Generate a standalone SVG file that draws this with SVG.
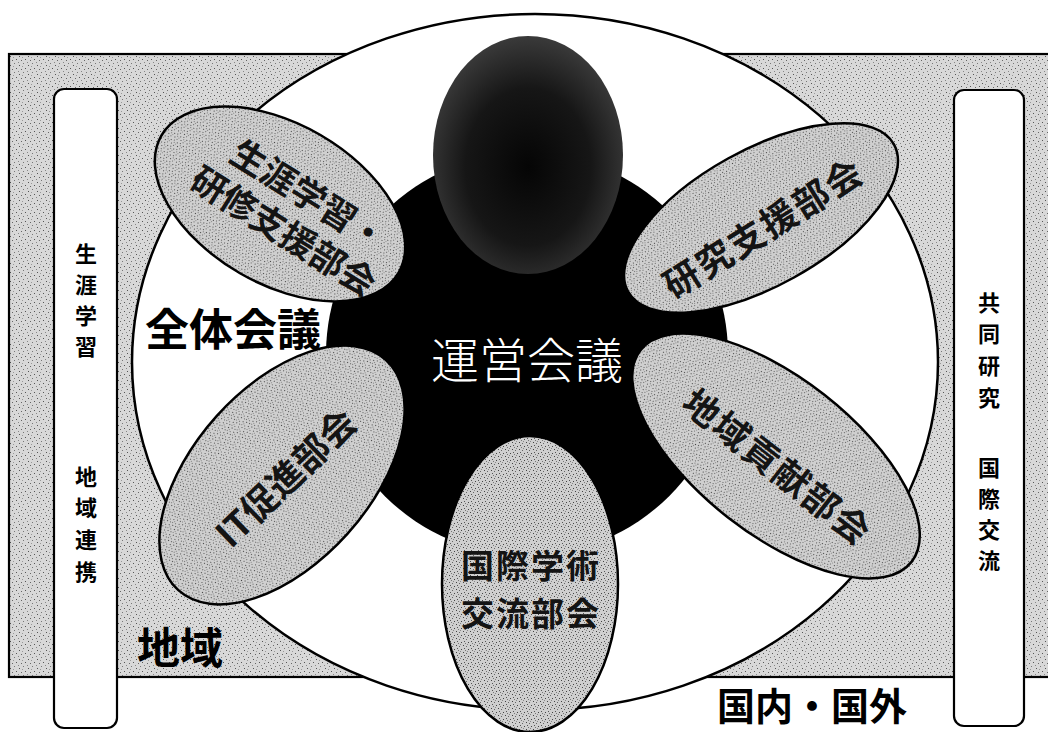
<svg xmlns="http://www.w3.org/2000/svg" width="1048" height="732" viewBox="0 0 1048 732">
  <defs>
    <pattern id="stipOuter" width="9" height="9" patternUnits="userSpaceOnUse">
      <rect width="9" height="9" fill="#d8d8d8"/>
      <rect x="1" y="2" width="1" height="1" fill="#555"/>
      <rect x="5" y="0" width="1" height="1" fill="#777"/>
      <rect x="7" y="5" width="1" height="1" fill="#555"/>
      <rect x="3" y="6" width="1" height="1" fill="#666"/>
      <rect x="0" y="8" width="1" height="1" fill="#888"/>
      <rect x="4" y="3" width="1" height="1" fill="#999"/>
    </pattern>
    <pattern id="stipPetal" width="7" height="7" patternUnits="userSpaceOnUse">
      <rect width="7" height="7" fill="#cfcfcf"/>
      <rect x="1" y="1" width="1" height="1" fill="#444"/>
      <rect x="4" y="2" width="1" height="1" fill="#666"/>
      <rect x="2" y="4" width="1" height="1" fill="#555"/>
      <rect x="6" y="5" width="1" height="1" fill="#444"/>
      <rect x="3" y="6" width="1" height="1" fill="#777"/>
      <rect x="5" y="0" width="1" height="1" fill="#888"/>
    </pattern>
    <radialGradient id="darkTop" cx="0.5" cy="0.55" r="0.55">
      <stop offset="0" stop-color="#050505"/>
      <stop offset="0.6" stop-color="#161616"/>
      <stop offset="1" stop-color="#3a3a3a"/>
    </radialGradient>
    <style>
      .petal { fill: url(#stipPetal); stroke: #000; stroke-width: 2.5; }
      .pill { fill: #fff; stroke: #000; stroke-width: 2.2; }
      .ptxt { font-family: "Noto Sans CJK JP", sans-serif; font-weight: 700; fill: #141414; text-anchor: middle; dominant-baseline: central; }
      .vtxt { font-family: "Noto Sans CJK JP", sans-serif; font-weight: 700; font-size: 22px; fill: #000; text-anchor: middle; dominant-baseline: central; }
      .big { font-family: "Noto Sans CJK JP", sans-serif; font-weight: 700; fill: #000; text-anchor: middle; dominant-baseline: central; }
    </style>
  </defs>

  <rect width="1048" height="732" fill="#fff"/>

  <g id="region-outer">
    <rect x="9" y="54" width="1045" height="623" fill="url(#stipOuter)" stroke="#000" stroke-width="2.2"/>
  </g>

  <g id="pill-left">
    <rect class="pill" x="54" y="89" width="63" height="639" rx="10"/>
    <text class="vtxt" x="86" y="252">生</text>
    <text class="vtxt" x="86" y="283">涯</text>
    <text class="vtxt" x="86" y="314">学</text>
    <text class="vtxt" x="86" y="345">習</text>
    <text class="vtxt" x="86" y="475">地</text>
    <text class="vtxt" x="86" y="506">域</text>
    <text class="vtxt" x="86" y="538">連</text>
    <text class="vtxt" x="86" y="570">携</text>
  </g>

  <g id="pill-right">
    <rect class="pill" x="954" y="90" width="70" height="636" rx="10"/>
    <text class="vtxt" x="989" y="301">共</text>
    <text class="vtxt" x="989" y="332">同</text>
    <text class="vtxt" x="989" y="364">研</text>
    <text class="vtxt" x="989" y="396">究</text>
    <text class="vtxt" x="989" y="466">国</text>
    <text class="vtxt" x="989" y="497">際</text>
    <text class="vtxt" x="989" y="528">交</text>
    <text class="vtxt" x="989" y="559">流</text>
  </g>

  <g id="zentai-kaigi">
    <ellipse cx="535" cy="362" rx="403" ry="348" fill="#fff" stroke="#000" stroke-width="2.5"/>
    <text class="big" x="233" y="327" font-size="44">全体会議</text>
  </g>

  <g id="unei-kaigi">
    <circle cx="527" cy="354" r="201" fill="#000"/>
    <ellipse cx="528" cy="155" rx="95" ry="119" fill="url(#darkTop)"/>
    <text x="527" y="357" font-family="Noto Sans CJK JP, sans-serif" font-size="48" font-weight="300" fill="#fff" text-anchor="middle" dominant-baseline="central">運営会議</text>
  </g>

  <g id="petal-shogai">
    <ellipse class="petal" cx="0" cy="0" rx="137" ry="80" transform="translate(280,204) rotate(30)"/>
    <text class="ptxt" font-size="35" transform="translate(310,193) rotate(32)">生涯学習・</text>
    <text class="ptxt" font-size="35" transform="translate(285,229) rotate(32)">研修支援部会</text>
  </g>

  <g id="petal-kenkyu">
    <ellipse class="petal" cx="0" cy="0" rx="152" ry="68" transform="translate(761,218) rotate(-29)"/>
    <text class="ptxt" font-size="36" letter-spacing="2" transform="translate(762,226) rotate(-32)">研究支援部会</text>
  </g>

  <g id="petal-it">
    <ellipse class="petal" cx="0" cy="0" rx="155" ry="88" transform="translate(282,475) rotate(-48)"/>
    <text class="ptxt" font-size="36" transform="translate(284,476) rotate(-44)">IT促進部会</text>
  </g>

  <g id="petal-chiiki">
    <ellipse class="petal" cx="0" cy="0" rx="172" ry="78" transform="translate(776,456) rotate(38)"/>
    <text class="ptxt" font-size="36" letter-spacing="2" transform="translate(779,465) rotate(38)">地域貢献部会</text>
  </g>

  <g id="petal-kokusai">
    <ellipse class="petal" cx="530" cy="584" rx="88" ry="148"/>
    <text class="ptxt" font-size="33" letter-spacing="2" x="531" y="564">国際学術</text>
    <text class="ptxt" font-size="33" letter-spacing="2" x="531" y="612">交流部会</text>
  </g>

  <g id="label-chiiki">
    <text class="big" x="180" y="645" font-size="43" fill="#1a1a1a">地域</text>
  </g>

  <g id="label-kokunai">
    <text class="big" x="812" y="703" font-size="38">国内・国外</text>
  </g>

  <g id="connectors"/>
</svg>
